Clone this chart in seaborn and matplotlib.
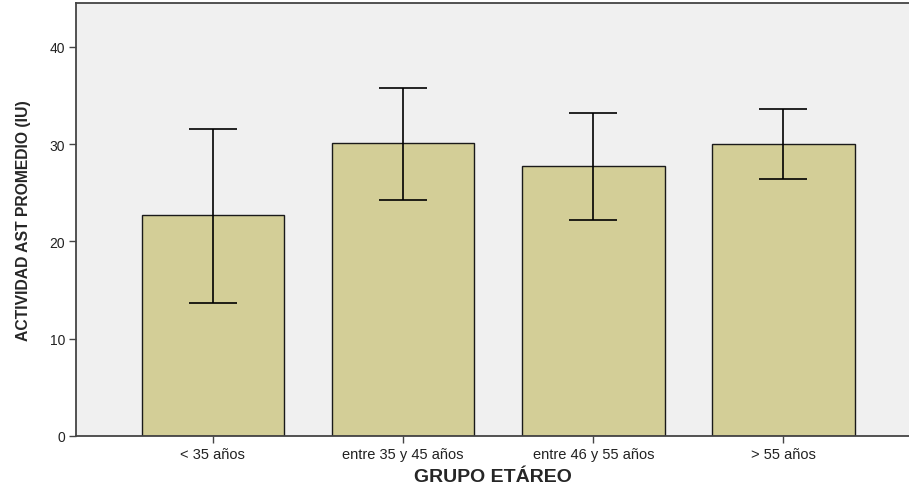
import matplotlib
matplotlib.use('Agg')
import matplotlib.pyplot as plt
import seaborn as sns
import pandas as pd

# --- Datos ---
grupos = ['< 35 años', 'entre 35 y 45 años', 'entre 46 y 55 años', '> 55 años']
medias = [22.7, 30.1, 27.7, 30.0]
ic_inf = [13.7, 24.3, 22.2, 26.4]
ic_sup = [31.6, 35.8, 33.2, 33.6]

df = pd.DataFrame({'grupo': grupos, 'media': medias})

sns.set_style('white')
plt.rcParams['font.family'] = ['Liberation Sans', 'DejaVu Sans']

fig = plt.figure(figsize=(9.09, 4.89), dpi=100)
ax = fig.add_axes([76 / 909, 52 / 489, 833 / 909, 433 / 489])
ax.set_facecolor('#f0f0f0')

sns.barplot(data=df, x='grupo', y='media', color='#d3ce97', saturation=1,
            width=0.75, edgecolor='#1a1a1a', linewidth=1, errorbar=None, ax=ax)

# barras de error (intervalos)
err_low = [m - lo for m, lo in zip(medias, ic_inf)]
err_high = [hi - m for m, hi in zip(medias, ic_sup)]
ax.errorbar(range(len(grupos)), medias, yerr=[err_low, err_high], fmt='none',
            ecolor='black', elinewidth=1.2, capsize=17, capthick=1.2)

ax.set_xlim(-0.72, 3.66)
ax.set_ylim(0, 44.5)
ax.set_yticks([0, 10, 20, 30, 40])

for side in ['left', 'bottom', 'top']:
    ax.spines[side].set_color('#444444')
    ax.spines[side].set_linewidth(1.3)
ax.spines['right'].set_visible(False)

ax.tick_params(axis='both', direction='out', length=5, width=1,
               color='#444444', labelcolor='#222222', pad=3,
               left=True, bottom=True)
ax.tick_params(axis='x', labelsize=10.5)
ax.tick_params(axis='y', labelsize=10)

ax.set_xlabel('GRUPO ETÁREO', fontsize=14, fontweight='bold', labelpad=5)
ax.set_ylabel('ACTIVIDAD AST PROMEDIO (IU)', fontsize=11.3, fontweight='bold',
              labelpad=13)

fig.savefig('out.png', dpi=100)
